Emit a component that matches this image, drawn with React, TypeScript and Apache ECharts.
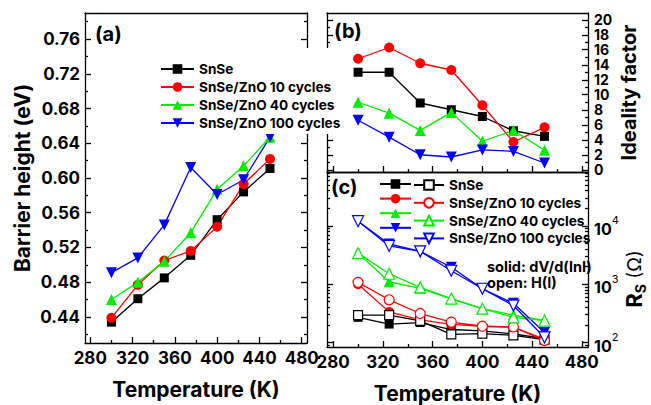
import React, { useEffect, useRef } from 'react';
import * as echarts from 'echarts';

// ---------- data ----------
const temperatures = [300, 325, 350, 375, 400, 425, 450];
const sampleNames = ['SnSe', 'SnSe/ZnO 10 cycles', 'SnSe/ZnO 40 cycles', 'SnSe/ZnO 100 cycles'];

// (a) barrier height (eV)
const barrierSnSe = [0.434, 0.461, 0.485, 0.511, 0.552, 0.584, 0.611];
const barrier10 = [0.439, 0.477, 0.505, 0.516, 0.544, 0.593, 0.622];
const barrier40 = [0.46, 0.48, 0.504, 0.537, 0.587, 0.614, 0.647];
const barrier100 = [0.491, 0.508, 0.546, 0.612, 0.581, 0.598, 0.647];

// (b) ideality factor
const idealitySnSe = [13.0, 13.0, 8.9, 8.0, 7.1, 5.2, 4.45];
const ideality10 = [14.8, 16.3, 14.2, 13.3, 8.6, 3.7, 5.65];
const ideality40 = [9.0, 7.55, 5.25, 7.65, 3.8, 5.25, 2.6];
const ideality100 = [6.6, 4.35, 2.0, 1.7, 2.65, 2.45, 0.9];

// (c) series resistance (ohm); solid: dV/d(lnI), open: H(I)
const rsSnSeSolid = [270, 207, 220, 167, 158, 140, 118];
const rsSnSeOpen = [294, 294, 235, 138, 142, 133, 112];
const rs10Solid = [1000, 335, 244, 205, 190, 182, 114];
const rs10Open = [1075, 540, 314, 224, 190, 185, 108];
const rs40Solid = [3400, 1100, 850, 560, 380, 295, 240];
const rs40Open = [3400, 1510, 880, 567, 380, 270, 238];
const rs100Solid = [12000, 4900, 3650, 1950, 835, 470, 148];
const rs100Open = [12000, 4530, 3650, 1700, 835, 430, 122];

// ticks
const xTickLabels = [280, 320, 360, 400, 440, 480];
const xMinorTicks = [300, 340, 380, 420, 460];
const barrierTicks = [0.44, 0.48, 0.52, 0.56, 0.6, 0.64, 0.68, 0.72, 0.76];
const barrierMinorTicks = [0.42, 0.46, 0.5, 0.54, 0.58, 0.62, 0.66, 0.7, 0.74, 0.78];
const idealityTicks = [0, 2, 4, 6, 8, 10, 12, 14, 16, 18, 20];
const idealityMinorTicks = [1, 3, 5, 7, 9, 11, 13, 15, 17, 19];
const rsDecadeTicks = [100, 1000, 10000];
const rsMinorTicks = [90, 200, 300, 400, 500, 600, 700, 800, 900, 2000, 3000, 4000, 5000, 6000, 7000, 8000, 9000, 20000, 30000, 40000, 50000, 60000, 70000, 80000];

const COLORS = ['#000000', '#ff0000', '#00ee00', '#0000ff'];
const SYMBOLS = ['rect', 'circle', 'triangle', 'triangle'];
const ROTATES = [0, 0, 0, 180];
const SIZES = [9, 10, 11, 11];

const FONT = 'Inter';
const lineStyleAxis = { color: '#000', width: 1.3 };

function App() {
  const ref = useRef<HTMLDivElement>(null);

  useEffect(() => {
    if (!ref.current) return;
    const chart = echarts.init(ref.current, undefined, { renderer: 'svg' });

    const X_MIN = 275, X_MAX = 485;
    const LOG_MIN = 1.923, LOG_MAX = 4.923;

    const xBase = (gridIndex: number, position: string) => ({
      gridIndex, type: 'value', min: X_MIN, max: X_MAX, position,
      splitLine: { show: false },
      axisLine: { show: false, onZero: false, lineStyle: lineStyleAxis },
      axisTick: { show: false },
      axisLabel: { show: false },
    });
    const tickLabelStyle = { fontSize: 17, fontWeight: 'bold', fontFamily: FONT, color: '#000' };
    const titleStyle = { fontSize: 21, fontWeight: 'bold', fontFamily: FONT, color: '#000' };

    const xAxis: any[] = [];
    const makeX = (grid: number, labels: boolean) => {
      xAxis.push({
        ...xBase(grid, 'bottom'),
        axisLine: { show: true, onZero: false, lineStyle: lineStyleAxis },
        axisTick: { show: true, inside: true, length: 6, customValues: xTickLabels, lineStyle: lineStyleAxis },
        axisLabel: labels ? { show: true, customValues: xTickLabels, margin: 6, ...tickLabelStyle } : { show: false },
        ...(labels ? { name: 'Temperature (K)', nameLocation: 'middle', nameGap: 36, nameTextStyle: titleStyle } : {}),
      });
      xAxis.push({
        ...xBase(grid, 'bottom'),
        axisTick: { show: true, inside: true, length: 3, customValues: xMinorTicks, lineStyle: lineStyleAxis },
      });
      xAxis.push({ ...xBase(grid, 'top'), axisLine: { show: true, onZero: false, lineStyle: lineStyleAxis } });
    };
    makeX(0, true); // 0,1,2
    makeX(1, false); // 3,4,5
    makeX(2, true); // 6,7,8

    const yAxis: any[] = [];
    const yBase = (gridIndex: number, position: string, min: number, max: number) => ({
      gridIndex, type: 'value', min, max, position,
      splitLine: { show: false },
      axisLine: { show: false, onZero: false, lineStyle: lineStyleAxis },
      axisTick: { show: false },
      axisLabel: { show: false },
    });
    const makeYSide = (grid: number, position: string, min: number, max: number, major: number[], minor: number[], label: any, name: any) => {
      yAxis.push({
        ...yBase(grid, position, min, max),
        axisLine: { show: true, onZero: false, lineStyle: lineStyleAxis },
        axisTick: { show: true, inside: true, length: 6, customValues: major, lineStyle: lineStyleAxis },
        axisLabel: label ? { show: true, customValues: major, ...label } : { show: false },
        ...(name || {}),
      });
      yAxis.push({
        ...yBase(grid, position, min, max),
        axisTick: { show: true, inside: true, length: 3, customValues: minor, lineStyle: lineStyleAxis },
      });
    };
    // grid 0 (a)
    makeYSide(0, 'left', 0.41, 0.79, barrierTicks, barrierMinorTicks,
      { margin: 5, ...tickLabelStyle, formatter: (v: number) => v.toFixed(2) },
      { name: 'Barrier height (eV)', nameLocation: 'middle', nameGap: 52, nameTextStyle: titleStyle }); // 0,1
    makeYSide(0, 'right', 0.41, 0.79, barrierTicks, barrierMinorTicks, null, null); // 2,3
    // grid 1 (b)
    makeYSide(1, 'left', -0.3, 20.9, idealityTicks, idealityMinorTicks, null, null); // 4,5
    makeYSide(1, 'right', -0.3, 20.9, idealityTicks, idealityMinorTicks,
      { margin: 6, fontSize: 14, lineHeight: 13, fontWeight: 'bold', fontFamily: FONT, color: '#000', formatter: (v: number) => String(Math.round(v)) },
      { name: 'Ideality factor', nameLocation: 'middle', nameGap: 31, nameTextStyle: { ...titleStyle, fontSize: 20 } }); // 6,7
    // grid 2 (c), log scale
    const logMajor = rsDecadeTicks.map((v) => Math.log10(v));
    const logMinor = rsMinorTicks.map((v) => Math.log10(v));
    makeYSide(2, 'left', LOG_MIN, LOG_MAX, logMajor, logMinor, null, null); // 8,9
    makeYSide(2, 'right', LOG_MIN, LOG_MAX, logMajor, logMinor,
      {
        margin: 6,
        formatter: (v: number) => `{b|10}{s|${Math.round(v)}}`,
        rich: {
          b: { fontSize: 16, fontWeight: 'bold', fontFamily: FONT, color: '#000', lineHeight: 22, verticalAlign: 'bottom' },
          s: { fontSize: 11, fontFamily: FONT, color: '#000', lineHeight: 12, verticalAlign: 'top' },
        },
      }, null); // 10,11

    const makeSeries = (name: string, values: number[], i: number, xi: number, yi: number, open: boolean, transform?: (v: number) => number) => ({
      name,
      type: 'line',
      xAxisIndex: xi,
      yAxisIndex: yi,
      data: temperatures.map((t, k) => [t, transform ? transform(values[k]) : values[k]]),
      symbol: SYMBOLS[i],
      symbolSize: SIZES[i],
      symbolRotate: ROTATES[i],
      showAllSymbol: true,
      lineStyle: { color: COLORS[i], width: 1.3 },
      itemStyle: open
        ? { color: '#fff', borderColor: COLORS[i], borderWidth: 1.2 }
        : { color: COLORS[i], borderColor: COLORS[i], borderWidth: 0 },
      z: open ? 3 : 2,
    });

    const barrier = [barrierSnSe, barrier10, barrier40, barrier100];
    const ideality = [idealitySnSe, ideality10, ideality40, ideality100];
    const rsSolid = [rsSnSeSolid, rs10Solid, rs40Solid, rs100Solid];
    const rsOpen = [rsSnSeOpen, rs10Open, rs40Open, rs100Open];

    const series: any[] = [];
    sampleNames.forEach((n, i) => series.push(makeSeries(n, barrier[i], i, 0, 0, false)));
    sampleNames.forEach((n, i) => series.push(makeSeries(n, ideality[i], i, 3, 6, false)));
    sampleNames.forEach((n, i) => series.push(makeSeries(n + ' solid', rsSolid[i], i, 6, 10, false, Math.log10)));
    sampleNames.forEach((n, i) => series.push(makeSeries(n + ' open', rsOpen[i], i, 6, 10, true, Math.log10)));

    const legendText = { fontSize: 13.6, fontWeight: 'bold', fontFamily: FONT, color: '#000' };

    const option: any = {
      animation: false,
      backgroundColor: '#fff',
      grid: [
        { left: 85, top: 13, width: 222, height: 342 },
        { left: 327, top: 13, width: 261, height: 159 },
        { left: 327, top: 172, width: 261, height: 183 },
      ],
      xAxis,
      yAxis,
      legend: [
        {
          data: sampleNames,
          orient: 'vertical',
          left: 155, top: 48,
          padding: [14, 3, 4, 5],
          itemWidth: 33, itemHeight: 12, itemGap: 4,
          backgroundColor: '#fff',
          selectedMode: false,
          textStyle: legendText,
        },
        {
          data: sampleNames.map((n) => n + ' solid'),
          orient: 'vertical',
          left: 379, top: 178, padding: 0,
          itemWidth: 31, itemHeight: 12, itemGap: 3.8,
          selectedMode: false,
          formatter: () => '',
          textStyle: legendText,
        },
        {
          data: sampleNames.map((n) => n + ' open'),
          orient: 'vertical',
          left: 413, top: 178, padding: 0,
          itemWidth: 30, itemHeight: 12, itemGap: 3.8,
          selectedMode: false,
          formatter: (name: string) => name.replace(' open', ''),
          textStyle: legendText,
        },
      ],
      graphic: [
        { type: 'text', left: 95, top: 24, style: { text: '(a)', fontSize: 20, fontWeight: 'bold', fontFamily: FONT, fill: '#000' } },
        { type: 'text', left: 334, top: 21, style: { text: '(b)', fontSize: 20, fontWeight: 'bold', fontFamily: FONT, fill: '#000' } },
        { type: 'text', left: 331, top: 177, style: { text: '(c)', fontSize: 20, fontWeight: 'bold', fontFamily: FONT, fill: '#000' } },
        { type: 'text', left: 487, top: 259, style: { text: 'solid: dV/d(lnI)', fontSize: 14.5, fontWeight: 'bold', fontFamily: FONT, fill: '#000' } },
        { type: 'text', left: 487, top: 275, style: { text: 'open: H(I)', fontSize: 14.5, fontWeight: 'bold', fontFamily: FONT, fill: '#000' } },
        {
          type: 'text', x: 634, y: 279, rotation: Math.PI / 2,
          style: {
            text: '{r|R}{s|S}{o| (Ω)}',
            align: 'center', verticalAlign: 'middle',
            rich: {
              r: { fontSize: 22, fontWeight: 'bold', fontFamily: FONT, fill: '#000', lineHeight: 26 },
              s: { fontSize: 14, fontWeight: 'bold', fontFamily: FONT, fill: '#000', lineHeight: 15, verticalAlign: 'bottom' },
              o: { fontSize: 19, fontFamily: FONT, fill: '#000', lineHeight: 26 },
            },
          },
        },
      ],
      series,
    };

    chart.setOption(option);
    return () => chart.dispose();
  }, []);

  return <div ref={ref} style={{ position: 'absolute', left: 0, top: 0, width: 651, height: 405, background: '#fff' }} />;
}

export default App;
